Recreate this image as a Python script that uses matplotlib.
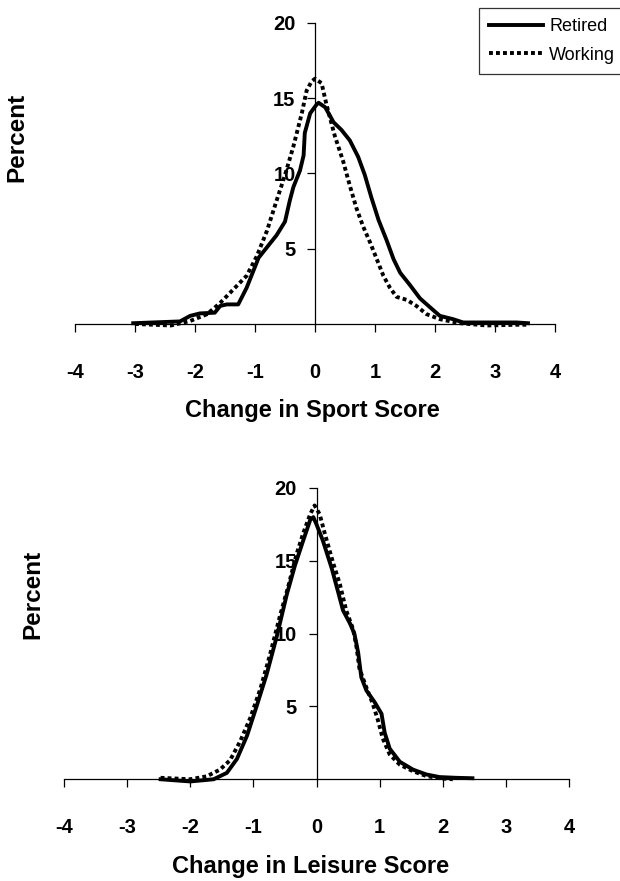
import numpy as np
import matplotlib
matplotlib.use('Agg')
import matplotlib.pyplot as plt
from matplotlib import rcParams

rcParams['font.family'] = ['Liberation Sans', 'DejaVu Sans']

# Change in Sport Score
sport_retired_x = [-3.03, -2.25, -2.08, -1.92, -1.67, -1.58, -1.47, -1.28, -1.14, -0.94, -0.86,
                   -0.64, -0.5, -0.42, -0.36, -0.25, -0.19, -0.17, -0.08, 0.03, 0.06, 0.17, 0.31,
                   0.44, 0.58, 0.72, 0.83, 0.94, 1.06, 1.19, 1.31, 1.42, 1.58, 1.75, 1.92, 2.08,
                   2.3, 2.47, 2.86, 3.36, 3.55]
sport_retired_y = [0.05, 0.17, 0.54, 0.7, 0.75, 1.2, 1.3, 1.3, 2.4, 4.4, 4.8,
                   5.9, 6.8, 8.2, 9.1, 10.2, 11.2, 12.7, 14.0, 14.6, 14.7, 14.4, 13.4,
                   12.9, 12.2, 11.1, 9.9, 8.4, 6.9, 5.6, 4.3, 3.4, 2.6, 1.7, 1.1, 0.54,
                   0.32, 0.1, 0.1, 0.1, 0.05]
sport_working_x = [-3.0, -2.4, -2.08, -1.8, -1.58, -1.36, -1.14, -0.97, -0.8, -0.64, -0.5,
                   -0.36, -0.22, -0.14, -0.06, 0.0, 0.11, 0.19, 0.33, 0.47, 0.58, 0.69, 0.8,
                   0.92, 1.03, 1.14, 1.25, 1.36, 1.53, 1.69, 1.86, 2.08, 2.42, 2.86, 3.4, 3.55]
sport_working_y = [0.0, -0.1, 0.2, 0.65, 1.4, 2.3, 3.2, 4.5, 6.2, 8.2, 9.9,
                   11.8, 14.0, 15.5, 16.1, 16.3, 16.0, 14.6, 12.5, 10.8, 9.2, 7.7, 6.5,
                   5.4, 4.3, 3.2, 2.4, 1.8, 1.6, 1.2, 0.65, 0.32, 0.05, -0.1, -0.05, -0.05]

# Change in Leisure Score
leisure_retired_x = [-2.47, -2.0, -1.63, -1.42, -1.26, -1.1, -0.95, -0.79, -0.63, -0.47, -0.34,
                     -0.21, -0.1, -0.05, 0.0, 0.1, 0.24, 0.34, 0.42, 0.53, 0.6, 0.66, 0.71,
                     0.79, 0.92, 1.03, 1.08, 1.16, 1.32, 1.53, 1.74, 1.95, 2.21, 2.47]
leisure_retired_y = [0.0, -0.15, 0.0, 0.44, 1.4, 3.0, 5.0, 7.2, 9.8, 12.7, 14.7,
                     16.4, 17.8, 18.0, 17.5, 16.4, 14.5, 12.9, 11.6, 10.7, 10.0, 8.7, 7.0,
                     6.1, 5.3, 4.5, 3.2, 2.1, 1.2, 0.66, 0.33, 0.15, 0.1, 0.07]
leisure_working_x = [-2.47, -2.0, -1.74, -1.53, -1.37, -1.21, -1.05, -0.89, -0.74, -0.58, -0.45,
                     -0.32, -0.21, -0.1, -0.03, 0.05, 0.13, 0.26, 0.37, 0.47, 0.58, 0.63, 0.68,
                     0.79, 0.89, 0.97, 1.05, 1.16, 1.32, 1.53, 1.74, 1.95, 2.16]
leisure_working_y = [0.1, 0.0, 0.2, 0.66, 1.3, 2.6, 4.2, 6.2, 8.5, 11.2, 13.2,
                     15.4, 16.9, 18.2, 18.8, 18.2, 16.9, 14.9, 13.4, 11.6, 10.3, 9.2, 7.6,
                     6.3, 5.2, 4.1, 2.8, 1.7, 1.0, 0.55, 0.22, 0.07, 0.0]

x_ticks = [-4, -3, -2, -1, 0, 1, 2, 3, 4]
y_ticks = [5, 10, 15, 20]

fig = plt.figure(figsize=(6.2, 8.81), dpi=100)
axis_1 = fig.add_axes([75 / 620, 1 - 333 / 881, 480 / 620, 310 / 881])
axis_2 = fig.add_axes([64 / 620, 1 - 788 / 881, 505 / 620, 300 / 881])


def style_axis(ax):
    ax.set_xlim(-4, 4)
    ax.set_ylim(-0.6, 20)
    for side in ['top', 'right']:
        ax.spines[side].set_visible(False)
    ax.spines['left'].set_position(('data', 0))
    ax.spines['left'].set_bounds(0, 20)
    ax.spines['bottom'].set_position(('data', 0))
    ax.spines['left'].set_linewidth(0.9)
    ax.spines['bottom'].set_linewidth(0.9)
    ax.set_xticks(x_ticks)
    ax.set_xticklabels([str(t) for t in x_ticks])
    ax.set_yticks(y_ticks)
    ax.set_yticklabels([str(t) for t in y_ticks])
    ax.tick_params(axis='x', direction='out', length=6, width=0.9, pad=22, labelsize=14.5)
    ax.tick_params(axis='y', direction='out', length=6, width=0.9, pad=8, labelsize=14.5)
    for lab in ax.get_xticklabels() + ax.get_yticklabels():
        lab.set_fontweight('bold')
    ax.patch.set_visible(False)


for ax, rx, ry, wx, wy in [(axis_1, sport_retired_x, sport_retired_y, sport_working_x, sport_working_y),
                           (axis_2, leisure_retired_x, leisure_retired_y, leisure_working_x, leisure_working_y)]:
    style_axis(ax)
    ax.plot(wx, wy, color='black', linewidth=2.8, linestyle=(0, (1.0, 0.8)),
            dash_capstyle='butt', dash_joinstyle='round', label='Working', zorder=3, clip_on=False)
    ax.plot(rx, ry, color='black', linewidth=2.8, linestyle='-', label='Retired', zorder=4,
            clip_on=False, solid_joinstyle='round')

# Axis labels
fig.text(312 / 620, 1 - 410 / 881, 'Change in Sport Score', ha='center', va='center',
         fontsize=17, fontweight='bold')
fig.text(311 / 620, 1 - 866 / 881, 'Change in Leisure Score', ha='center', va='center',
         fontsize=17, fontweight='bold')
fig.text(17 / 620, 1 - 137 / 881, 'Percent', rotation=90, ha='center', va='center',
         fontsize=17.5, fontweight='bold')
fig.text(33 / 620, 1 - 594 / 881, 'Percent', rotation=90, ha='center', va='center',
         fontsize=17.5, fontweight='bold')

# Legend
handles, labels = axis_1.get_legend_handles_labels()
legend = fig.legend(handles[::-1], labels[::-1], loc='upper left',
                    bbox_to_anchor=(479 / 620, 1 - 8 / 881), fontsize=13,
                    frameon=True, fancybox=False, handlelength=3.0, handletextpad=0.35,
                    borderpad=0.55, labelspacing=0.65, borderaxespad=0)
legend.get_frame().set_edgecolor('black')
legend.get_frame().set_linewidth(0.9)

fig.savefig('out.png', dpi=100)
